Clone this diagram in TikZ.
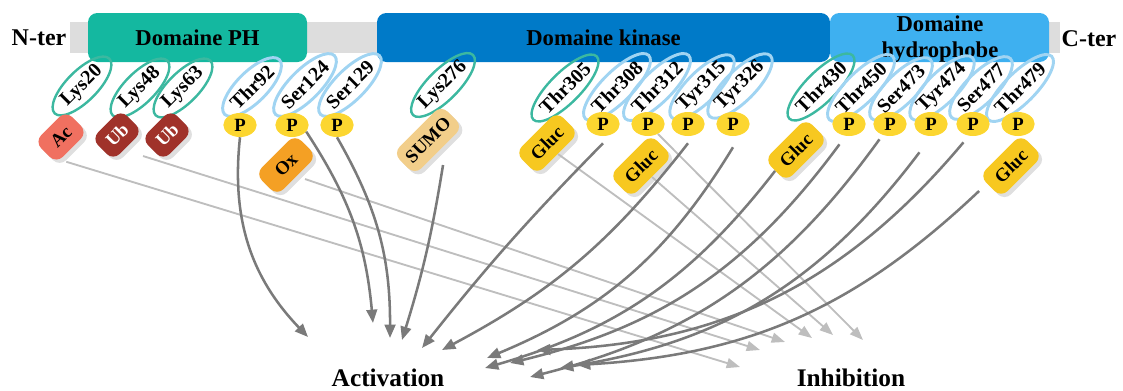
\documentclass[tikz,border=0pt]{standalone}
\usepackage{fontspec}
\setmainfont{Liberation Serif}
\usetikzlibrary{arrows.meta,shapes.geometric,shadows}

\definecolor{phcol}{RGB}{20,184,160}
\definecolor{kincol}{RGB}{0,122,200}
\definecolor{hydcol}{RGB}{62,176,240}
\definecolor{barcol}{RGB}{221,221,221}
\definecolor{tealring}{RGB}{60,184,160}
\definecolor{bluering}{RGB}{160,212,242}
\definecolor{accol}{RGB}{240,112,96}
\definecolor{ubcol}{RGB}{160,50,42}
\definecolor{oxcol}{RGB}{244,160,36}
\definecolor{sumocol}{RGB}{242,206,138}
\definecolor{gluccol}{RGB}{247,200,32}
\definecolor{pcol}{RGB}{252,214,48}
\definecolor{actcol}{RGB}{122,122,122}
\definecolor{inhcol}{RGB}{190,190,190}

\begin{document}
\begin{tikzpicture}[x=0.75pt,y=-0.75pt]
\useasboundingbox (0,0) rectangle (1123,390);
\tikzset{dombox/.style = {rectangle,rounded corners=7pt,minimum height=36.75pt,inner sep=0pt,font=\fontsize{17}{20}\selectfont\bfseries}}
\tikzset{ends/.style = {font=\fontsize{18}{20}\selectfont\bfseries}}
% backbone and domains
\fill[barcol] (70,22) rectangle (1060,53);
\node[ends] (nter) at (39,38) {N-ter};
\node[ends] (cter) at (1089,39) {C-ter};
\node[dombox,fill=phcol,minimum width=164.25pt] (ph) at (197.5,37.5) {Domaine PH};
\node[dombox,fill=kincol,minimum width=339.75pt] (kin) at (603.5,37.5) {Domaine kinase};
\node[dombox,fill=hydcol,minimum width=164.25pt] (hyd) at (939.5,37.5) {};
\node[dombox,align=center] (hydtxt) at (940,39) {Domaine\\hydrophobe};

% residues
\tikzset{resid/.style = {ellipse,rotate=45,minimum width=58pt,minimum height=23pt,inner sep=0pt,font=\fontsize{15}{16}\selectfont\bfseries}}
\tikzset{tres/.style = {resid,draw=tealring,line width=1.8pt}}
\tikzset{bres/.style = {resid,draw=bluering,line width=2.2pt}}
\node[tres] (k20) at (82,86) {Lys20};
\node[tres] (k48) at (140,88) {Lys48};
\node[tres] (k63) at (183,88) {Lys63};
\node[bres] (t92) at (252,87) {Thr92};
\node[bres] (s124) at (305,85) {Ser124};
\node[bres] (s129) at (350,85) {Ser129};
\node[tres] (k276) at (443,85) {Lys276};
\node[tres] (t305) at (565,88) {Thr305};
\node[bres] (t308) at (617,87) {Thr308};
\node[bres] (t312) at (657,87) {Thr312};
\node[bres] (y315) at (702,87) {Tyr315};
\node[bres] (y326) at (740,86) {Tyr326};
\node[tres] (t430) at (821,87) {Thr430};
\node[bres] (t450) at (861,88) {Thr450};
\node[bres] (s473) at (901,89) {Ser473};
\node[bres] (y474) at (942,88) {Tyr474};
\node[bres] (s477) at (981,88) {Ser477};
\node[bres] (t479) at (1020,88) {Thr479};

% modifications
\tikzset{pmark/.style = {ellipse,fill=pcol,minimum width=25pt,minimum height=18pt,inner sep=0pt,font=\fontsize{14}{15}\selectfont\bfseries}}
\tikzset{badge/.style = {rectangle,rounded corners=7pt,rotate=45,minimum height=23pt,inner sep=0pt,
  drop shadow={shadow xshift=2.5pt,shadow yshift=-2.5pt,opacity=0.25},font=\fontsize{14}{15}\selectfont\bfseries}}
\node[badge,fill=accol,minimum width=33pt] (ac) at (61,137) {Ac};
\node[badge,fill=ubcol,text=white,minimum width=31pt] (ub1) at (117,135) {Ub};
\node[badge,fill=ubcol,text=white,minimum width=31pt] (ub2) at (167,135) {Ub};
\node[pmark] (p92) at (240,125) {P};
\node[pmark] (p124) at (292,125) {P};
\node[pmark] (p129) at (337,125) {P};
\node[badge,fill=oxcol,minimum width=42pt] (ox) at (286,165) {Ox};
\node[badge,fill=sumocol,minimum width=51pt] (sumo) at (428,140) {SUMO};
\node[badge,fill=gluccol,minimum width=44pt] (g305) at (547,143) {Gluc};
\node[pmark] (p308) at (603,124) {P};
\node[pmark] (p312) at (648,124) {P};
\node[badge,fill=gluccol,minimum width=44pt] (g312) at (641,166) {Gluc};
\node[pmark] (p315) at (688,124) {P};
\node[pmark] (p326) at (733,124) {P};
\node[badge,fill=gluccol,minimum width=44pt] (g430) at (796,150) {Gluc};
\node[pmark] (p450) at (849,124) {P};
\node[pmark] (p473) at (890,124) {P};
\node[pmark] (p474) at (931,124) {P};
\node[pmark] (p477) at (973,124) {P};
\node[pmark] (p479) at (1018,124) {P};
\node[badge,fill=gluccol,minimum width=44pt] (g479) at (1011,166) {Gluc};

% effects
\tikzset{effect/.style = {font=\fontsize{19}{20}\selectfont\bfseries,anchor=base}}
\node[effect] (act) at (388,386) {Activation};
\node[effect] (inh) at (851,386) {Inhibition};

% arrow ends
\coordinate (a1) at (308,337);
\coordinate (a2) at (373,323);
\coordinate (a3) at (390,338);
\coordinate (a4) at (402,340);
\coordinate (a5) at (422,348);
\coordinate (a6) at (442,350);
\coordinate (a7) at (487,358);
\coordinate (a8) at (485,368);
\coordinate (a9) at (510,363);
\coordinate (a10) at (530,377);
\coordinate (a11) at (560,368);
\coordinate (a12) at (537,350);
\coordinate (a13) at (577,365);
\coordinate (i1) at (740,367);
\coordinate (i2) at (760,350);
\coordinate (i3) at (785,342);
\coordinate (i4) at (812,338);
\coordinate (i5) at (833,335);
\coordinate (i6) at (863,340);

%edges
\tikzset{inhib/.style = {-{Triangle[length=10pt,width=7.5pt]},inhcol,line width=1.4pt}}
\draw[inhib] ([shift={(10,-2)}]ac.south west) -- (i1);
\draw[inhib] ([shift={(15,10)}]ub1.south) -- (i2);
\draw[inhib] ([shift={(8,3)}]ox.south) -- (i3);
\draw[inhib] (g305.south) -- (i4);
\draw[inhib] (g312.south) -- (i5);
\draw[inhib] (p312.-45) -- (i6);

\tikzset{activ/.style = {-{Triangle[length=10pt,width=8pt]},actcol,line width=1.9pt}}
\draw[activ] (p92.south) to[bend right=25] (a1);
\draw[activ] (p124.-25) to[bend left=14] (a2);
\draw[activ] (p129.south) to[bend left=15] (a3);
\draw[activ] ([shift={(4,14)}]sumo.south) to[bend left=4] (a4);
\draw[activ] ([shift={(0,7)}]p308.south) to[bend right=3] (a5);
\draw[activ] ([shift={(0,7)}]p315.south) to[bend left=12] (a6);
\draw[activ] ([shift={(0,11)}]p326.south) to[bend left=18] (a7);
\draw[activ] (g430.west) to[bend left=18] (a8);
\draw[activ] ([shift={(-3,9)}]p450.240) to[bend left=20] (a9);
\draw[activ] ([shift={(-4,4)}]p473.240) to[bend left=20] (a10);
\draw[activ] ([shift={(-5,17)}]p474.240) to[bend left=22] (a11);
\draw[activ] ([shift={(-3,7)}]p477.240) to[bend left=24] (a12);
\draw[activ] ([shift={(-22,-7)}]g479.south west) to[bend left=20] (a13);

\end{tikzpicture}
\end{document}
